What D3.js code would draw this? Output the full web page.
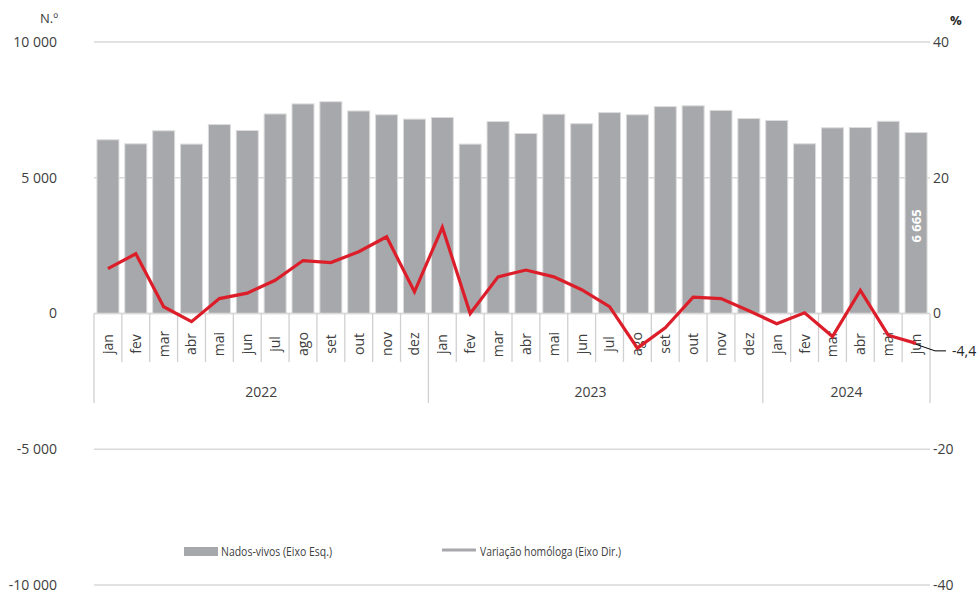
<!DOCTYPE html>
<html><head><meta charset="utf-8">
<script src="https://cdnjs.cloudflare.com/ajax/libs/d3/7.8.5/d3.min.js"></script>
<style>body{margin:0;background:#fff}svg{display:block}text{font-family:"Open Sans",sans-serif}</style>
</head><body><svg id="c" width="980" height="593"></svg>
<script>
const months = ["jan","fev","mar","abr","mai","jun","jul","ago","set","out","nov","dez",
  "jan","fev","mar","abr","mai","jun","jul","ago","set","out","nov","dez",
  "jan","fev","mar","abr","mai","jun"];
const years = [{label:"2022",start:0,end:12},{label:"2023",start:12,end:24},{label:"2024",start:24,end:30}];
const births = [6400,6250,6730,6240,6960,6740,7350,7720,7800,7460,7320,7160,
  7220,6240,7070,6630,7340,6990,7400,7320,7620,7650,7480,7180,
  7110,6250,6840,6850,7080,6665];
const yoy = [6.6,8.8,1.0,-1.2,2.2,3.0,4.9,7.8,7.5,9.1,11.3,3.2,
  12.7,0.0,5.4,6.4,5.4,3.5,1.0,-5.1,-2.1,2.4,2.2,0.4,
  -1.5,0.1,-3.4,3.4,-3.2,-4.4];
const leftTicks = [10000,5000,0,-5000,-10000];
const rightTicks = [40,20,0,-20,-40];
const legendLabels = ["Nados-vivos (Eixo Esq.)","Variação homóloga (Eixo Dir.)"];

const svg = d3.select("#c");
const x0 = 94, x1 = 930, yTop = 42, yBot = 585;
const x = d3.scaleBand().domain(d3.range(months.length)).range([x0,x1]).paddingInner(0.21).paddingOuter(0.105);
const yL = d3.scaleLinear().domain([-10000,10000]).range([yBot,yTop]);
const yR = d3.scaleLinear().domain([-40,40]).range([yBot,yTop]);
const step = x.step();
const txt = "#404040";
const fmt = v => d3.format(",")(v).replace(/,/g," ").replace("\u2212","-");

// gridlines
svg.append("g").selectAll("line").data(leftTicks).join("line")
  .attr("x1",x0).attr("x2",x1).attr("y1",d=>yL(d)).attr("y2",d=>yL(d))
  .attr("stroke","#d9d9d9").attr("stroke-width",1.3);

// left axis labels
svg.append("g").selectAll("text").data(leftTicks).join("text")
  .attr("x",57).attr("y",d=>yL(d)).attr("dy","0.35em").attr("text-anchor","end")
  .attr("font-size",14).attr("fill",txt).text(d=>fmt(d));
svg.append("text").attr("x",58).attr("y",18).attr("dy","0.35em").attr("text-anchor","end")
  .attr("font-size",13).attr("fill",txt).text("N.º");
// right axis labels
svg.append("g").selectAll("text").data(rightTicks).join("text")
  .attr("x",933).attr("y",d=>yR(d)).attr("dy","0.35em").attr("text-anchor","start")
  .attr("font-size",14).attr("fill",txt).text(d=>fmt(d));
svg.append("text").attr("x",950).attr("y",20).attr("dy","0.35em")
  .attr("font-size",13).attr("font-weight","bold").attr("fill","#262626").text("%");

// bars
svg.append("g").selectAll("rect").data(births).join("rect")
  .attr("x",(d,i)=>x(i)).attr("width",x.bandwidth())
  .attr("y",d=>yL(d)).attr("height",d=>yL(0)-yL(d))
  .attr("fill","#a7a8ac").attr("stroke","#dcdcdc").attr("stroke-width",1);

// category axis box
const yz = yL(0);
const ag = svg.append("g");
ag.append("line").attr("x1",x0).attr("x2",x1).attr("y1",yz).attr("y2",yz).attr("stroke","#d9d9d9").attr("stroke-width",1.3);
const yearBounds = new Set(years.flatMap(y=>[y.start,y.end]));
ag.selectAll("line.t").data(d3.range(months.length+1)).join("line").attr("class","t")
  .attr("x1",i=>x0+i*step).attr("x2",i=>x0+i*step)
  .attr("y1",yz).attr("y2",i=>yearBounds.has(i)?403:362)
  .attr("stroke","#d0d0d0").attr("stroke-width",1.3);
ag.selectAll("text.m").data(months).join("text").attr("class","m")
  .attr("transform",(d,i)=>`translate(${x(i)+x.bandwidth()/2},344) rotate(-90)`)
  .attr("text-anchor","middle").attr("dy","0.35em").attr("font-size",14).attr("fill",txt).text(d=>d);
ag.selectAll("text.y").data(years).join("text").attr("class","y")
  .attr("x",d=>x0+step*(d.start+d.end)/2 - (d.label==="2023"?5:0)).attr("y",392).attr("dy","0.35em")
  .attr("text-anchor","middle").attr("font-size",14).attr("fill",txt).text(d=>d.label);

// line
const line = d3.line().x((d,i)=>x(i)+x.bandwidth()/2).y(d=>yR(d));
svg.append("path").datum(yoy).attr("d",line).attr("fill","none")
  .attr("stroke","#dc1e2a").attr("stroke-width",3.2).attr("stroke-linejoin","miter");

// data labels
const li = births.length-1;
svg.append("text")
  .attr("transform",`translate(${x(li)+x.bandwidth()/2},226) rotate(-90)`)
  .attr("text-anchor","middle").attr("dy","0.35em").attr("font-size",13).attr("font-weight","bold")
  .attr("fill","#fff").text(fmt(births[li]));
const px = x(li)+x.bandwidth()/2, py = yR(yoy[li]);
svg.append("path").attr("d",`M${px},${py+1}L${935},${py+7.5}L${946},${py+7.5}`)
  .attr("fill","none").attr("stroke","#000").attr("stroke-width",1);
svg.append("text").attr("x",952).attr("y",py+8).attr("dy","0.35em").attr("font-size",14).attr("fill","#262626")
  .text(d3.format(".1f")(yoy[li]).replace(".",",").replace("\u2212","-"));

// legend
const lg = svg.append("g");
lg.append("rect").attr("x",184).attr("y",547).attr("width",34).attr("height",9).attr("fill","#a7a8ac");
lg.append("text").attr("x",221).attr("y",551).attr("dy","0.35em").attr("font-size",13).attr("fill",txt)
  .attr("textLength",111).attr("lengthAdjust","spacingAndGlyphs").text(legendLabels[0]);
lg.append("line").attr("x1",442).attr("x2",476).attr("y1",550).attr("y2",550).attr("stroke","#a7a8ac").attr("stroke-width",3);
lg.append("text").attr("x",480).attr("y",551).attr("dy","0.35em").attr("font-size",13).attr("fill",txt)
  .attr("textLength",141).attr("lengthAdjust","spacingAndGlyphs").text(legendLabels[1]);
</script></body></html>
